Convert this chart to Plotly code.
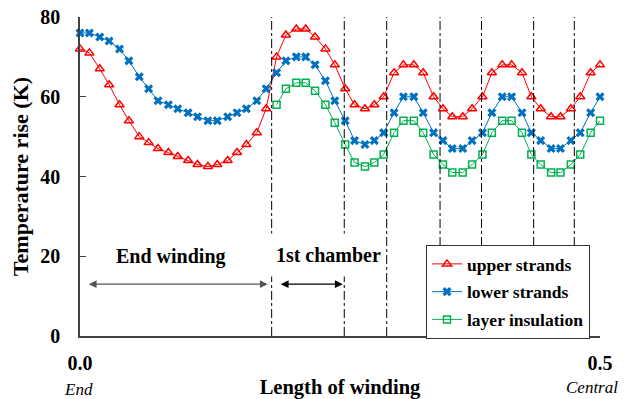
import plotly.graph_objects as go

# ---------------- data ----------------
length_m = [0.000, 0.009, 0.019, 0.028, 0.038, 0.047, 0.057, 0.066, 0.075, 0.085,
            0.094, 0.104, 0.113, 0.123, 0.132, 0.142, 0.151, 0.160, 0.170, 0.179,
            0.189, 0.198, 0.208, 0.217, 0.226, 0.236, 0.245, 0.255, 0.264, 0.274,
            0.283, 0.292, 0.302, 0.311, 0.321, 0.330, 0.340, 0.349, 0.358, 0.368,
            0.377, 0.387, 0.396, 0.406, 0.415, 0.425, 0.434, 0.443, 0.453, 0.462,
            0.472, 0.481, 0.491, 0.500]

upper_strands = [72, 71, 67, 63, 58, 54, 50, 48.5, 47, 46,
                 45, 44, 43, 42.5, 43, 44, 46, 48, 51, 57,
                 70, 75.5, 77, 77, 75, 72, 68, 62, 58, 57,
                 58, 60, 66, 68, 68, 66, 60, 57, 55, 55,
                 57, 60, 66, 68, 68, 66, 60, 57, 55, 55,
                 57, 60, 66, 68]

lower_strands = [76, 76, 75, 74, 72, 69, 65, 62, 59, 58,
                 57, 56, 55, 54, 54, 55, 56, 57, 59, 62,
                 66, 69, 70, 70, 68, 64, 59, 54, 49, 48,
                 49, 51, 56, 60, 60, 56, 51, 49, 47, 47,
                 49, 51, 56, 60, 60, 56, 51, 49, 47, 47,
                 49, 51, 56, 60]

insulation_length_m = length_m[20:]
layer_insulation = [58, 62, 63.5, 63.5, 61.5, 58, 53.5, 48, 43.5, 42.5,
                    43.5, 45.5, 51, 54, 54, 51, 45.5, 43, 41, 41,
                    43, 45.5, 51, 54, 54, 51, 45.5, 43, 41, 41,
                    43, 45.5, 51, 54]

boundaries = [0.1843, 0.2541, 0.2949, 0.3462, 0.3861, 0.4362, 0.4753]

end_winding_span = [0.007, 0.1805]
chamber_span = [0.1916, 0.2526]
arrow_level = 13

x_tickvals = [0, 0.5]
x_ticktext = ["0.0", "0.5"]
y_tickvals = [0, 20, 40, 60, 80]

# ---------------- figure ----------------
FONT = "Liberation Serif"
RED, BLUE, GREEN = "#FF0000", "#0070C0", "#00B050"

fig = go.Figure()
fig.add_trace(go.Scatter(
    x=length_m, y=upper_strands, name="upper strands", mode="lines+markers",
    line=dict(color=RED, width=1), legendgroup="a",
    marker=dict(symbol="triangle-up-open", size=8, color=RED, line=dict(width=1.5, color=RED)),
    cliponaxis=False))
fig.add_trace(go.Scatter(
    x=length_m, y=lower_strands, name="lower strands", mode="lines+markers",
    line=dict(color=BLUE, width=1), legendgroup="b",
    marker=dict(symbol="x", size=8, color=BLUE, line=dict(width=0)),
    cliponaxis=False))
fig.add_trace(go.Scatter(
    x=insulation_length_m, y=layer_insulation, name="layer insulation", mode="lines+markers",
    line=dict(color=GREEN, width=1), legendgroup="c",
    marker=dict(symbol="square-open", size=7, color=GREEN, line=dict(width=1.5, color=GREEN)),
    cliponaxis=False))

for b in boundaries:
    fig.add_shape(type="line", x0=b, x1=b, y0=0, y1=80, xref="x", yref="y",
                  line=dict(color="black", width=1, dash="dashdot"))

# arrows
fig.add_annotation(x=end_winding_span[1], y=arrow_level, ax=end_winding_span[0], ay=arrow_level,
                   xref="x", yref="y", axref="x", ayref="y", text="", showarrow=True,
                   arrowhead=2, arrowside="end+start", arrowsize=1.3, arrowwidth=1.2,
                   arrowcolor="#555555")
fig.add_annotation(x=chamber_span[1], y=arrow_level, ax=chamber_span[0], ay=arrow_level,
                   xref="x", yref="y", axref="x", ayref="y", text="", showarrow=True,
                   arrowhead=2, arrowside="end+start", arrowsize=1.3, arrowwidth=1.2,
                   arrowcolor="black")

# region labels
fig.add_annotation(x=0.0873, y=19.9, xref="x", yref="y", text="End winding", showarrow=False,
                   xanchor="center", yanchor="middle",
                   font=dict(family=FONT, size=20, color="black", weight="bold"))
fig.add_annotation(x=0.2365, y=20.4, xref="x", yref="y", text="1st chamber", showarrow=False,
                   xanchor="center", yanchor="middle",
                   font=dict(family=FONT, size=20, color="black", weight="bold"),
                   bgcolor="white", borderpad=0, width=110, height=42, align="right")

# end labels (positions relative to the plot area)
fig.add_annotation(x=(78.5 - 80) / 520, y=(336 - 389) / 319, xref="paper", yref="paper",
                   text="End", showarrow=False, xanchor="center", yanchor="middle",
                   font=dict(family=FONT, size=17, color="black", style="italic"))
fig.add_annotation(x=(591.5 - 80) / 520, y=(336 - 387) / 319, xref="paper", yref="paper",
                   text="Central", showarrow=False, xanchor="center", yanchor="middle",
                   font=dict(family=FONT, size=17, color="black", style="italic"))

# page body has an 8px default margin: figure is sized so that it fills the 630x399 window
fig.update_layout(
    width=622, height=391,
    margin=dict(l=72, r=30, t=9, b=63, autoexpand=False),
    paper_bgcolor="white", plot_bgcolor="white",
    font=dict(family=FONT, color="black"),
    showlegend=True,
    legend=dict(x=(426 - 80) / 520, y=(336 - 245) / 319, xanchor="left", yanchor="top",
                bgcolor="white", bordercolor="#333333", borderwidth=1,
                font=dict(family=FONT, size=17.5, color="black", weight="bold"),
                tracegroupgap=2, itemwidth=30),
    xaxis=dict(range=[0, 0.5], showgrid=False, zeroline=False, automargin=False,
               showline=True, linecolor="#404040", linewidth=1.5,
               tickmode="array", tickvals=x_tickvals, ticktext=x_ticktext,
               ticks="inside", ticklen=5, tickcolor="#404040",
               ticklabelstandoff=8, ticklabeloverflow="allow",
               tickfont=dict(family=FONT, size=20, color="black", weight="bold"),
               title=dict(text="Length of winding", standoff=15,
                          font=dict(family=FONT, size=20.5, color="black", weight="bold"))),
    yaxis=dict(range=[0, 80], showgrid=False, zeroline=False, automargin=False,
               showline=True, linecolor="#404040", linewidth=1.5,
               tickmode="array", tickvals=y_tickvals,
               ticks="inside", ticklen=6, tickcolor="#404040",
               ticklabelstandoff=14, ticklabeloverflow="allow",
               tickfont=dict(family=FONT, size=20, color="black", weight="bold"),
               title=dict(text="Temperature rise (K)", standoff=6,
                          font=dict(family=FONT, size=22, color="black", weight="bold"))),
)

fig.write_html("out.html")
